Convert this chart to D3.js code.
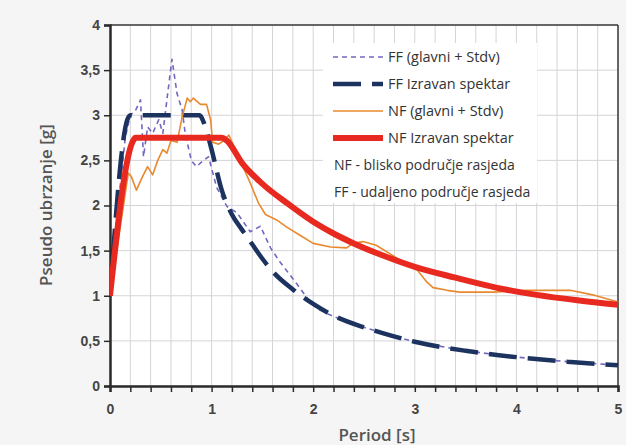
<!DOCTYPE html>
<html>
<head>
<meta charset="utf-8">
<script src="https://cdn.jsdelivr.net/npm/d3@7"></script>
<style>
  html, body { margin: 0; padding: 0; background: #f5f5f5; }
  svg { display: block; font-family: "Open Sans", "Noto Sans", sans-serif; }
</style>
</head>
<body>
<svg id="chart" width="626" height="445"></svg>
<script>
// ---- data ----
const xTicks = [0, 1, 2, 3, 4, 5];
const yTicks = [0, 0.5, 1, 1.5, 2, 2.5, 3, 3.5, 4];
const yTickLabels = ["0", "0,5", "1", "1,5", "2", "2,5", "3", "3,5", "4"];

// FF (glavni + Stdv)  [period, value]
const ffRecordT = [0, 0.08, 0.15, 0.2, 0.25, 0.3, 0.33, 0.37, 0.42, 0.48, 0.52, 0.56, 0.61, 0.66, 0.71, 0.74, 0.8, 0.85, 0.92, 0.97, 1.05, 1.15, 1.25, 1.38, 1.48, 1.58, 1.67, 1.84, 1.97, 2.05, 2.2, 2.5, 2.7, 3.0, 3.5, 4.0, 4.5, 5.0];
const ffRecordV = [1, 2.0, 2.75, 3.0, 3.05, 3.17, 2.54, 2.87, 2.8, 2.95, 2.8, 3.17, 3.62, 3.24, 3.06, 2.8, 2.5, 2.43, 2.5, 2.54, 2.2, 1.99, 1.92, 1.71, 1.77, 1.53, 1.38, 1.13, 0.93, 0.85, 0.77, 0.65, 0.58, 0.49, 0.39, 0.32, 0.27, 0.23];

// FF Izravan spektar
const ffDesignT = [0, 0.17, 0.2, 0.88, 0.93, 1.0, 1.1, 1.2, 1.3, 1.4, 1.5, 1.6, 1.8, 2.0, 2.2, 2.5, 2.7, 3.0, 3.5, 4.0, 4.5, 5.0];
const ffDesignV = [1, 2.95, 3.0, 3.0, 2.9, 2.62, 2.17, 1.9, 1.73, 1.57, 1.41, 1.27, 1.07, 0.91, 0.78, 0.65, 0.58, 0.49, 0.39, 0.32, 0.27, 0.23];

// NF (glavni + Stdv)
const nfRecordT = [0, 0.18, 0.21, 0.26, 0.32, 0.37, 0.42, 0.47, 0.52, 0.56, 0.6, 0.66, 0.71, 0.76, 0.79, 0.82, 0.89, 0.95, 0.99, 1.01, 1.07, 1.12, 1.17, 1.28, 1.38, 1.46, 1.53, 1.64, 1.74, 1.87, 2.0, 2.17, 2.33, 2.39, 2.49, 2.62, 2.82, 3.02, 3.12, 3.18, 3.32, 3.44, 3.77, 4.1, 4.26, 4.53, 4.75, 5.0];
const nfRecordV = [1, 2.36, 2.32, 2.17, 2.32, 2.43, 2.34, 2.5, 2.62, 2.58, 2.72, 2.7, 2.98, 3.19, 3.15, 3.19, 3.12, 3.12, 2.95, 2.7, 2.68, 2.72, 2.78, 2.5, 2.25, 2.03, 1.9, 1.84, 1.76, 1.67, 1.58, 1.54, 1.53, 1.58, 1.6, 1.56, 1.42, 1.29, 1.15, 1.09, 1.06, 1.04, 1.04, 1.06, 1.06, 1.06, 1.01, 0.93];

// NF Izravan spektar
const nfDesignT = [0, 0.22, 0.25, 1.1, 1.15, 1.3, 1.5, 1.75, 2.0, 2.2, 2.4, 2.7, 3.0, 3.4, 3.8, 4.2, 4.6, 5.0];
const nfDesignV = [1, 2.7, 2.75, 2.75, 2.72, 2.47, 2.24, 2.02, 1.82, 1.69, 1.58, 1.44, 1.32, 1.2, 1.09, 1.01, 0.95, 0.9];

const seriesNames = ["FF (glavni + Stdv)", "FF Izravan spektar", "NF (glavni + Stdv)", "NF Izravan spektar"];
const noteLines = ["NF - blisko područje rasjeda", "FF - udaljeno područje rasjeda"];
const xTitle = "Period [s]";
const yTitle = "Pseudo ubrzanje [g]";

// ---- chart ----
const svg = d3.select("#chart");
const W = 626, H = 445;
const m = { left: 110, right: 8, top: 25, bottom: 59 };
const x = d3.scaleLinear().domain([0, 5]).range([m.left, W - m.right]);
const y = d3.scaleLinear().domain([0, 4]).range([H - m.bottom, m.top]);

svg.append("rect").attr("width", W).attr("height", H).attr("fill", "#f5f5f5");
svg.append("rect").attr("x", x(0)).attr("y", y(4)).attr("width", x(5) - x(0)).attr("height", y(0) - y(4)).attr("fill", "#ffffff");

// grid
const vGrid = d3.range(0, 5.0001, 0.2);
svg.append("g").selectAll("line").data(vGrid).join("line")
  .attr("x1", d => x(d)).attr("x2", d => x(d))
  .attr("y1", y(0)).attr("y2", y(4))
  .attr("stroke", "#d4d4d8").attr("stroke-width", 1);
svg.append("g").selectAll("line").data(yTicks).join("line")
  .attr("x1", x(0)).attr("x2", x(5))
  .attr("y1", d => y(d)).attr("y2", d => y(d))
  .attr("stroke", "#d4d4d8").attr("stroke-width", 1);

// border top/right
svg.append("line").attr("x1", x(0)).attr("x2", x(5)).attr("y1", y(4)).attr("y2", y(4)).attr("stroke", "#3a3a3a").attr("stroke-width", 1.5);
svg.append("line").attr("x1", x(5)).attr("x2", x(5)).attr("y1", y(4)).attr("y2", y(0)).attr("stroke", "#3a3a3a").attr("stroke-width", 1.5);

// axes
const xAxis = d3.axisBottom(x).tickValues(vGrid).tickSize(6).tickFormat(d => {
  const r = Math.round(d * 10) / 10;
  return xTicks.includes(r) ? String(r) : "";
});
const gx = svg.append("g").attr("transform", `translate(0,${y(0)})`).call(xAxis);
gx.select(".domain").attr("stroke", "#2b2b2b").attr("stroke-width", 2.5);
gx.selectAll(".tick line").attr("stroke", "#2b2b2b").attr("stroke-width", 1.5);
gx.selectAll(".tick text").attr("dy", "1.35em").attr("font-size", 14).attr("font-weight", 600).attr("fill", "#444");

const yAxis = d3.axisLeft(y).tickValues(yTicks).tickSize(6).tickFormat((d, i) => yTickLabels[i]);
const gy = svg.append("g").attr("transform", `translate(${x(0)},0)`).call(yAxis);
gy.select(".domain").attr("stroke", "#2b2b2b").attr("stroke-width", 2.5);
gy.selectAll(".tick line").attr("stroke", "#2b2b2b").attr("stroke-width", 1.5);
gy.selectAll(".tick text").attr("x", -10).attr("font-size", 14).attr("font-weight", 600).attr("fill", "#444");
svg.selectAll(".domain").attr("fill", "none");

// titles
svg.append("text").attr("x", 377).attr("y", 441).attr("text-anchor", "middle")
  .attr("font-size", 17).attr("font-weight", 600).attr("fill", "#555").text(xTitle);
svg.append("text").attr("transform", `translate(52,205) rotate(-90)`).attr("text-anchor", "middle")
  .attr("font-size", 17).attr("font-weight", 600).attr("fill", "#555").text(yTitle);

// lines
const line = d3.line().x(d => x(d[0])).y(d => y(d[1]));
const smooth = d3.line().x(d => x(d[0])).y(d => y(d[1])).curve(d3.curveMonotoneX);
const zip = (a, b) => a.map((t, i) => [t, b[i]]);

const styles = [
  { color: "#7467c0", width: 1.6, dash: "5,4", gen: line, data: zip(ffRecordT, ffRecordV) },
  { color: "#1c335f", width: 4.5, dash: "28,11", gen: smooth, data: zip(ffDesignT, ffDesignV) },
  { color: "#e9892f", width: 1.6, dash: null, gen: line, data: zip(nfRecordT, nfRecordV) },
  { color: "#e8291f", width: 6, dash: null, gen: smooth, data: zip(nfDesignT, nfDesignV) }
];
svg.append("clipPath").attr("id", "clip").append("rect")
  .attr("x", x(0)).attr("y", y(4)).attr("width", x(5) - x(0) + 4).attr("height", y(0) - y(4));
const lg = svg.append("g").attr("clip-path", "url(#clip)");
styles.forEach(s => {
  lg.append("path").attr("d", s.gen(s.data)).attr("fill", "none")
    .attr("stroke", s.color).attr("stroke-width", s.width)
    .attr("stroke-dasharray", s.dash).attr("stroke-linejoin", "round");
});

// legend
const leg = svg.append("g");
leg.append("rect").attr("x", 323).attr("y", 43).attr("width", 214).attr("height", 160).attr("fill", "#ffffff");
const rowY = [57, 84, 111, 138];
styles.forEach((s, i) => {
  leg.append("line").attr("x1", 333).attr("x2", 383).attr("y1", rowY[i]).attr("y2", rowY[i])
    .attr("stroke", s.color).attr("stroke-width", s.width).attr("stroke-dasharray", s.dash);
  leg.append("text").attr("x", 388).attr("y", rowY[i]).attr("dy", "0.35em")
    .attr("font-size", 14.5).attr("fill", "#333").text(seriesNames[i]);
});
noteLines.forEach((t, i) => {
  leg.append("text").attr("x", 334).attr("y", 165 + i * 27).attr("dy", "0.35em")
    .attr("font-size", 14).attr("fill", "#333").text(t);
});
</script>
</body>
</html>
